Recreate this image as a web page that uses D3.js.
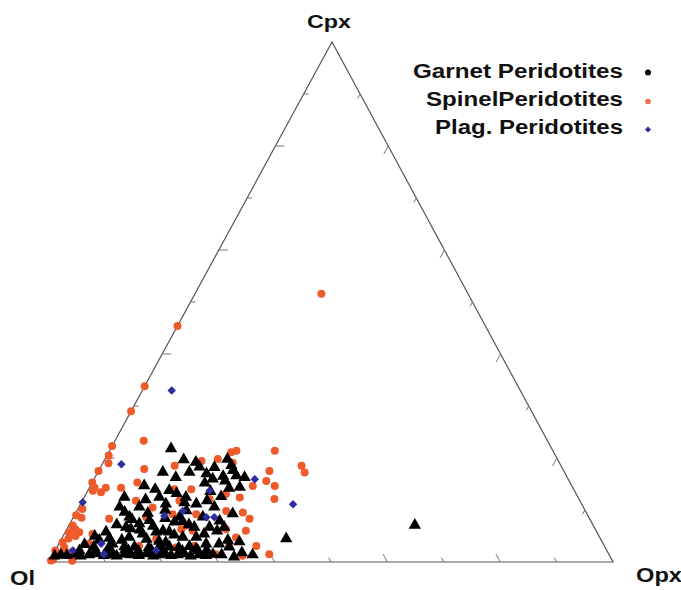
<!DOCTYPE html>
<html>
<head>
<meta charset="utf-8">
<script src="https://cdn.jsdelivr.net/npm/d3@7"></script>
<style>
  body { margin: 0; background: #fff; }
  text { font-family: "Liberation Sans", Arial, Helvetica, sans-serif; font-weight: bold; fill: #111; }
</style>
</head>
<body>
<svg id="chart" width="681" height="590"></svg>
<script>
// Ternary end-members: Ol (bottom-left), Opx (bottom-right), Cpx (apex)
const corners = ["Ol", "Opx", "Cpx"];
const seriesNames = ["Garnet Peridotites", "SpinelPeridotites", "Plag. Peridotites"];
const tickValues = [10, 20, 30, 40, 50, 60, 70, 80, 90];

// Modal compositions as [Cpx %, Opx %]; Ol is the remainder to 100 %
const garnet = [
  [21.4,10.9],[19.3,14.2],[17.9,17.7],[16.9,11.7],[15.9,14.5],[16.9,16.4],[16.6,19.6],[15.6,21.2],
  [16.1,22.8],[17.2,24.0],[15.9,26.7],[14.0,26.8],[14.3,9.7],[12.1,7.3],[10.2,10.9],[10.2,7.4],
  [13.4,14.6],[12.1,18.2],[10.8,20.7],[12.2,24.4],[10.8,15.3],[6.3,25.3],[8.9,28.1],[8.3,23.1],
  [8.3,19.0],[6.3,10.5],[7.0,12.5],[7.6,14.0],[5.4,7.4],[3.8,7.0],[3.1,9.7],[4.4,12.0],
  [5.0,14.1],[5.4,16.3],[5.4,18.6],[4.4,21.5],[4.4,23.9],[3.1,26.3],[3.1,28.6],[3.5,32.0],
  [4.1,40.0],[6.7,61.5],
  [18.8,16.6],[19.4,21.9],[12.1,13.5],[10.2,24.2],[8.3,10.1],[7.3,18.6],[6.3,22.6],[6.3,27.9],
  [6.0,11.5],[5.8,13.2],[6.5,15.2],[5.6,17.4],[4.0,15.3],[3.6,17.7],[4.8,19.8],[6.8,21.4],
  [3.8,11.0],[4.2,8.6],[2.0,12.5],[14.8,20.2],[13.2,22.0],[15.2,23.6],[13.8,25.0],[11.4,22.3],
  [3.0,4.8],[4.6,5.8],[6.8,8.6],[7.8,10.8],[9.0,13.0],[9.6,15.8],[8.0,16.6],[7.4,20.0],
  [9.5,19.6],[11.0,18.5],[12.8,16.2],[13.6,12.0],[11.6,11.3],[9.2,8.8],[5.0,25.0],[5.6,27.0],
  [7.5,26.5],[3.4,19.0],[2.2,25.0],[3.8,29.8],[0.6,32.5],[1.4,33.5],[17.8,20.4],[18.2,23.2],[16.2,25.1],
  [0.8,0.6],[1.0,1.6],[0.9,2.7],[1.1,3.9],[0.8,5.2],[1.0,6.6],[1.2,8.0],[0.9,9.3],[1.0,10.5],
  [0.8,11.6],[1.1,12.8],[1.0,14.1],[0.9,15.5],[1.2,16.7],[0.8,18.1],[1.0,19.0],[1.1,19.9],
  [0.9,21.2],[1.0,22.3],[1.2,23.4],[0.8,24.7],[1.0,26.1],[0.9,27.4],[1.1,28.5],[1.0,30.1],[1.0,35.6],
  [2.5,6.7],[2.4,9.4],[2.6,12.1],[2.5,13.9],[2.4,16.5],[2.6,18.3],[2.5,20.1],[2.4,21.8],[2.6,23.6],[2.5,30.7],
  [1.8,4.5],[1.7,7.3],[1.9,10.0],[1.8,13.2],[1.7,15.0],[1.9,17.2],[1.8,19.4],[1.7,22.8],[1.8,25.5],[1.9,27.0]
];

const spinel = [
  [22.3,0],[17.5,0],[15.3,0],[14.3,0.9],[13.4,2.5],[13.7,0.9],[10.2,0.8],[7.0,0.7],[5.7,0.7],
  [5.0,2.2],[5.7,2.5],[3.8,0.5],[2.2,0],[1.2,0.6],[0.5,0.5],[0.3,0.2],[29.0,0],[33.8,0],[45.4,0],
  [23.3,5.1],[14.3,2.9],[14.3,5.6],[15.3,8.0],[17.9,7.9],[18.5,13.0],[19.4,17.3],[19.8,20.0],
  [21.1,21.7],[21.4,22.5],[19.1,23.0],[21.4,29.3],[17.5,30.3],[15.6,30.7],[14.6,32.7],[12.1,33.9],
  [18.5,35.5],[17.2,36.7],[14.6,28.8],[13.1,24.8],[12.4,27.6],[12.1,22.4],[14.0,18.2],[14.0,15.2],
  [11.8,17.2],[10.5,13.1],[11.8,9.5],[8.3,6.5],[8.6,12.9],[9.2,17.3],[9.2,21.5],[9.8,26.5],
  [9.5,29.6],[8.3,31.4],[6.3,28.2],[6.0,31.9],[4.7,30.8],[7.0,20.8],[6.0,22.5],[6.3,20.3],
  [4.4,16.8],[3.1,35.2],[1.5,38.3],[1.2,33.7],[3.5,30.2],[1.5,28.8],[3.1,24.2],[2.8,21.1],
  [3.1,14.4],[3.5,5.4],[5.4,5.0],[0.25,4.0],[51.6,22.4],
  [8.5,1.5],[9.0,0.3],[6.3,1.5],[4.5,1.2],[2.8,1.3],[1.8,2.2],[20.5,0.3],[19.0,1.0]
];

const plag = [
  [18.8,3.4],[11.5,0.2],[13.7,21.6],[15.9,28.5],[11.1,37.7],[9.8,18.8],[8.9,16.0],
  [8.6,23.6],[8.6,25.0],[3.5,7.5],[2.2,3.1],[2.2,17.9],[33.0,5.2],[1.5,9.0]
];

const colors = { garnet: "#000000", spinel: "#ef5a2b", plag: "#2d2d9f", edge: "#555555" };

const svg = d3.select("#chart");

// Barycentric projection built from linear scales
const opxScale = d3.scaleLinear().domain([0, 100]).range([49, 613]);   // along the base
const cpxY = d3.scaleLinear().domain([0, 100]).range([562, 42]);       // height toward apex
const cpxShift = d3.scaleLinear().domain([0, 100]).range([0, 332 - 49]);
function project(cpx, opx) {
  return [opxScale(opx) + cpxShift(cpx), cpxY(cpx)];
}

const A = project(0, 0), B = project(0, 100), C = project(100, 0);

// Frame
svg.append("path")
  .attr("d", d3.line()([A, B, C, A]) + "Z")
  .attr("fill", "none")
  .attr("stroke", colors.edge)
  .attr("stroke-width", 1.2)
  .attr("stroke-linejoin", "miter");

// Ticks: each edge's tick runs parallel to the next edge
function unit(p, q) {
  const dx = q[0] - p[0], dy = q[1] - p[1], l = Math.hypot(dx, dy);
  return [dx / l, dy / l];
}
const dirLeft = unit(A, B);    // ticks on Ol–Cpx edge point along base
const dirBase = unit(B, C);    // ticks on Ol–Opx edge parallel to right edge
const dirRight = unit(C, A);   // ticks on Opx–Cpx edge parallel to left edge
const tickG = svg.append("g").attr("stroke", "#777").attr("stroke-width", 1);
tickValues.forEach(v => {
  const len = v % 20 === 0 ? 9 : 5;
  const pts = [
    [project(v, 0), dirLeft],
    [project(0, v), dirBase],
    [project(v, 100 - v), dirRight]
  ];
  pts.forEach(([p, d]) => {
    tickG.append("line")
      .attr("x1", p[0]).attr("y1", p[1])
      .attr("x2", p[0] + d[0] * len).attr("y2", p[1] + d[1] * len);
  });
});

// Spinel peridotites
svg.append("g").selectAll("circle").data(spinel).join("circle")
  .attr("cx", d => project(d[0], d[1])[0])
  .attr("cy", d => project(d[0], d[1])[1])
  .attr("r", 4)
  .attr("fill", colors.spinel);

// Garnet peridotites
const tri = d3.symbol().type(d3.symbolTriangle).size(66);
svg.append("g").selectAll("path").data(garnet).join("path")
  .attr("d", tri)
  .attr("transform", d => { const p = project(d[0], d[1]); return `translate(${p[0]},${p[1] - 2})`; })
  .attr("fill", colors.garnet);

// Plagioclase peridotites
const diamond = d3.symbol().type(d3.symbolSquare).size(36);
svg.append("g").selectAll("path").data(plag).join("path")
  .attr("d", diamond)
  .attr("transform", d => { const p = project(d[0], d[1]); return `translate(${p[0]},${p[1]}) rotate(45)`; })
  .attr("fill", colors.plag);

// Corner labels
svg.append("text").attr("x", C[0] - 3).attr("y", 28).attr("text-anchor", "middle")
  .attr("font-size", 19).attr("textLength", 44).attr("lengthAdjust", "spacingAndGlyphs").text(corners[2]);
svg.append("text").attr("x", 10).attr("y", 585)
  .attr("font-size", 20).attr("textLength", 25).attr("lengthAdjust", "spacingAndGlyphs").text(corners[0]);
svg.append("text").attr("x", 636).attr("y", 582)
  .attr("font-size", 20).attr("textLength", 46).attr("lengthAdjust", "spacingAndGlyphs").text(corners[1]);

// Legend
const legendY = [77.5, 105.5, 133.5];
const legendLen = [210, 197, 188];
const legend = svg.append("g");
seriesNames.forEach((name, i) => {
  legend.append("text")
    .attr("x", 623).attr("y", legendY[i])
    .attr("text-anchor", "end")
    .attr("font-size", 20)
    .attr("textLength", legendLen[i])
    .attr("lengthAdjust", "spacingAndGlyphs")
    .text(name);
});
legend.append("circle").attr("cx", 648).attr("cy", 72.5).attr("r", 3).attr("fill", colors.garnet);
legend.append("circle").attr("cx", 648).attr("cy", 101.5).attr("r", 2.8).attr("fill", "#ef6a55");
legend.append("path").attr("d", d3.symbol().type(d3.symbolSquare).size(18))
  .attr("transform", "translate(648,129.5) rotate(45)").attr("fill", colors.plag);
</script>
</body>
</html>
